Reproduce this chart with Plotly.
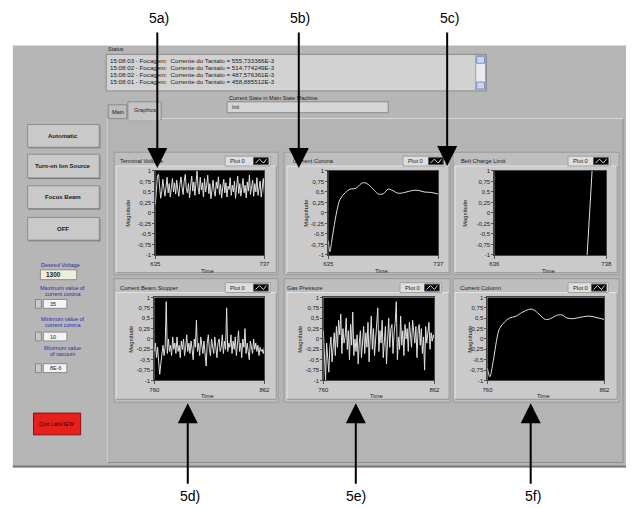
import plotly.graph_objects as go

W, H = 632, 508

# ---------------- data ----------------
tv_start, tv_end = 635, 737
terminal_voltage = [
    0.20, 0.55, 0.88, 0.92, 0.60, 0.35, 0.52, 0.80, 0.58, 0.40,
    0.62, 0.85, 0.48, 0.70, 0.38, 0.66, 0.82, 0.50, 0.72, 0.45,
    0.78, 0.55, 0.40, 0.68, 0.86, 0.62, 0.44, 0.75, 0.92, 0.58,
    0.48, 0.70, 0.36, 0.64, 0.88, 0.52, 0.74, 0.42, 0.80, 1.00,
    0.60, 0.45, 0.85, 0.55, 0.72, 0.38, 0.82, 0.50, 0.66, 0.90,
    0.46, 0.70, 0.34, 0.62, 0.78, 0.52, 0.40, 0.74, 0.58, 0.86,
    0.44, 0.68, 0.36, 0.60, 0.80, 0.48, 0.72, 0.38, 0.64, 0.56,
    0.84, 0.42, 0.66, 0.50, 0.76, 0.35, 0.62, 0.88, 0.46, 0.70,
    0.40, 0.58, 0.82, 0.48, 0.66, 0.36, 0.74, 0.52, 0.90, 0.44,
    0.62, 0.78, 0.40, 0.70, 0.50, 0.84, 0.42, 0.60, 0.76, 0.38,
    0.66, 0.82, 0.45,
]

cc_start, cc_end = 635, 737
corona_time = [635, 636.5, 638, 640, 643, 646, 651, 655.5, 660, 663, 666, 669, 672,
               675, 678, 681.5, 686, 690.5, 695, 700, 706, 712, 718, 724, 730, 737]
corona_value = [-0.66, -0.92, -0.70, -0.38, 0.05, 0.33, 0.49, 0.57, 0.58, 0.64, 0.71,
                0.72, 0.68, 0.61, 0.53, 0.45, 0.46, 0.57, 0.53, 0.47, 0.49, 0.53,
                0.54, 0.50, 0.49, 0.45]

bc_start, bc_end = 636, 738
belt_time = [720.5, 725]
belt_value = [-1.0, 1.0]

bs_start, bs_end = 760, 862
beam_stopper = [
    -0.30, -0.10, -0.45, -0.20, -0.55, -0.85, -0.60, -0.35, -0.15, -0.40,
    -0.20, 0.90, -0.35, 0.00, -0.30, -0.15, -0.40, 0.05, -0.25, -0.10,
    -0.35, 0.05, -0.30, -0.15, -0.45, -0.05, -0.25, 0.00, -0.40, -0.20,
    0.10, -0.30, -0.10, -0.35, -0.05, -0.25, -0.50, 0.00, -0.20, 0.45,
    -0.30, -0.10, -0.40, 0.05, -0.20, -0.35, -0.05, -0.30, -0.65, -0.10,
    0.10, -0.25, -0.40, 0.00, -0.20, -0.35, 0.05, -0.15, -0.45, -0.10,
    0.00, -0.30, -0.20, 0.10, -0.35, -0.05, -0.25, 0.75, -0.30, -0.10,
    -0.20, 0.10, -0.35, -0.05, -0.25, 0.05, -0.40, -0.15, 0.20, -0.30,
    -0.10, -0.45, 0.00, -0.20, 0.25, -0.35, -0.10, -0.30, -0.50, -0.05,
    -0.20, -0.35, 0.00, -0.25, -0.10, -0.30, -0.15, -0.40, -0.20, -0.30,
    -0.25, -0.35, -0.20,
]

gp_start, gp_end = 760, 862
gas_pressure = [
    0.20, -0.30, -1.00, -0.10, -0.45, -0.80, -0.20, 0.05, -0.55, -0.15,
    0.15, -0.40, 0.30, -0.20, 0.45, 0.10, 0.60, -0.35, 0.25, -0.10,
    0.05, 0.50, -0.25, 0.20, -0.50, 0.35, -0.15, 0.65, -0.40, 0.00,
    -0.30, 0.10, -0.60, -0.10, 0.20, -0.45, 0.05, 0.30, -0.35, 0.15,
    -0.20, 0.40, -0.55, 0.10, 0.55, -0.25, 0.25, -0.40, 0.05, 0.35,
    0.75, -0.30, 0.20, -0.10, 0.45, -0.45, 0.00, 0.30, -0.60, 0.10,
    0.50, -0.20, 0.25, 0.35, -0.35, 0.15, 0.40, 0.90, -0.50, 0.05,
    -0.25, 0.55, -0.15, 0.20, -0.40, 0.35, 0.00, 0.25, -0.30, 0.40,
    0.10, -0.20, 0.45, 0.15, -0.10, 0.30, -0.45, 0.20, 0.35, -0.15,
    0.25, -0.35, 0.05, -0.75, 0.30, -0.10, 0.20, 0.40, -0.25, 0.15,
    -0.05, 0.10, 0.00,
]

cl_start, cl_end = 760, 862
column_time = [760, 762, 765, 768, 770.5, 775, 779, 785, 789, 793, 798, 800.5, 805,
               810.5, 815, 820.5, 825, 829, 835, 842, 849.5, 853, 862]
column_value = [-0.70, -0.91, -0.54, -0.03, 0.25, 0.41, 0.50, 0.55, 0.62, 0.68, 0.72,
                0.70, 0.60, 0.47, 0.49, 0.57, 0.58, 0.51, 0.49, 0.53, 0.55, 0.53, 0.47]

mag_ticks = [1, 0.75, 0.5, 0.25, 0, -0.25, -0.5, -0.75, -1]
mag_labels = ["1", "0,75", "0,5", "0,25", "0", "-0,25", "-0,5", "-0,75", "-1"]

graph_titles = ["Terminal Voltage", "Current Corona", "Belt Charge Limit",
                "Current Beam Stopper", "Gas Pressure", "Current Column"]
fig_labels = ["5a)", "5b)", "5c)", "5d)", "5e)", "5f)"]

status_lines = [
    "15:08:03 - Focagem:  Corrente do Tantalo = 555,733366E-3",
    "15:08:02 - Focagem:  Corrente do Tantalo = 514,774249E-3",
    "15:08:02 - Focagem:  Corrente do Tantalo = 487,576361E-3",
    "15:08:01 - Focagem:  Corrente do Tantalo = 458,885512E-3",
]
button_labels = ["Automatic", "Turn-on Ion Source", "Focus Beam", "OFF"]

# ---------------- helpers ----------------
FONT = "Liberation Sans"


def X(px):
    return px / W


def Y(py):
    return 1 - py / H


shapes = []
annots = []


def rect(x0, y0, x1, y1, fill, line=None, lw=1, layer="below"):
    shapes.append(dict(type="rect", xref="paper", yref="paper",
                       x0=X(x0), x1=X(x1), y0=Y(y1), y1=Y(y0),
                       fillcolor=fill, layer=layer,
                       line=dict(color=line if line else fill, width=lw if line else 0)))


def hline(x0, x1, y, color, lw=1, layer="below"):
    shapes.append(dict(type="line", xref="paper", yref="paper", x0=X(x0), x1=X(x1),
                       y0=Y(y), y1=Y(y), line=dict(color=color, width=lw), layer=layer))


def vline(x, y0, y1, color, lw=1, layer="below"):
    shapes.append(dict(type="line", xref="paper", yref="paper", x0=X(x), x1=X(x),
                       y0=Y(y0), y1=Y(y1), line=dict(color=color, width=lw), layer=layer))


def text(x, y, s, size=6, color="#1a1a1a", anchor="left", bold=False, angle=0, family=FONT):
    if bold:
        s = "<b>" + s + "</b>"
    annots.append(dict(x=X(x), y=Y(y), xref="paper", yref="paper", text=s, showarrow=False,
                       xanchor=anchor, yanchor="middle", textangle=angle,
                       font=dict(size=size, color=color, family=family)))


# ---------------- window background ----------------
rect(8, 43, 632, 470, "#b6b6b6")
hline(8, 632, 469, "#7a7a7a", 2)
rect(104, 117, 629, 465, "#b4b4b4", "#8c8c8c", 1)
hline(104, 629, 117, "#e2e2e2", 1)
vline(104, 117, 465, "#e2e2e2", 1)

# status
text(103, 47, "Status", 5.5)
rect(103, 52, 490, 89, "#d2d2d2", "#8a8a8a", 1)
for i, s in enumerate(status_lines):
    text(105, 58 + 7 * i, s, 6.2)
rect(479, 53, 489, 88, "#e8e8ee", "#a0a0a8", 1)
rect(480, 54, 488, 61, "#c8d4f0", "#8090c0", 1)
rect(480, 80, 488, 87, "#c8d4f0", "#8090c0", 1)

# current state
text(226, 96, "Current State in Main State Machine", 5.5)
rect(226, 100, 390, 111, "#d6d6d6", "#8a8a8a", 1)
text(229, 105.5, "Init", 5.5)

# tabs
rect(105, 103, 124, 117, "#bdbdbd", "#8a8a8a", 1)
text(114.5, 110, "Main", 5.5, anchor="center")
rect(125, 100, 159, 118, "#c4c4c4", "#8a8a8a", 1)
hline(126, 158, 117.5, "#c4c4c4", 2)
text(142, 108, "Graphics", 5.5, anchor="center")

# left buttons
btn_y = [(123, 146), (153, 177), (185, 208), (217, 240)]
for lab, (y0, y1) in zip(button_labels, btn_y):
    rect(24, y0 + 1, 97, y1 + 1, "#6a6a6a")
    rect(23, y0, 96, y1, "#c9c9c9", "#8c8c8c", 1)
    text(59.5, (y0 + y1) / 2, lab, 6, anchor="center", bold=True)

blue = "#2a2aa8"
text(56, 265, "Desired Voltage", 5.5, blue, anchor="center")
rect(36, 270, 73, 280, "#eeeedc", "#8a8a8a", 1)
text(40, 275, "1300", 6.5, bold=True)

ctrl = [(("Maximum value of", "current corona"), 288, 300, "35"),
        (("Minimum value of", "current corona"), 320, 333, "10"),
        (("Minimum value", "of vacuum"), 349, 365, "8E-6")]
for (l1, l2), ty, by, val in ctrl:
    text(59, ty, l1, 5.5, blue, anchor="center")
    text(59, ty + 6, l2, 5.5, blue, anchor="center")
    rect(31, by, 37, by + 9, "#c8c8c8", "#8a8a8a", 1)
    rect(39, by, 63, by + 9, "#f4f4f4", "#8a8a8a", 1)
    text(44, by + 4.5, val, 5.5)

rect(29, 415, 77, 437, "#e8201c", "#8a1010", 1)
text(53, 426, "Quit LabVIEW", 5.5, "#3a0000", anchor="center")

# ---------------- graph panels ----------------
cols = [
    dict(ox=(111, 278), ix=(113, 276)),
    dict(ox=(284, 453), ix=(287, 452)),
    dict(ox=(456, 625), ix=(458, 623)),
]
rows = [dict(oy=(151, 275), iy=(165, 273)),
        dict(oy=(279, 404), iy=(293, 401))]
plot_x = [(153, 264), (329, 441), (498, 612), (152, 264), (324, 437), (491, 610)]
mag_x = [125, 306, 468, 128, 300, 473]
title_x = [115, 291, 462, 115, 285, 461]
legend_x = [(224, 270), (405, 448), (573, 616), (224, 270), (402, 444), (573, 614)]

series = [
    (list(range(tv_start, tv_start + len(terminal_voltage))), terminal_voltage, tv_start, tv_end),
    (corona_time, corona_value, cc_start, cc_end),
    (belt_time, belt_value, bc_start, bc_end),
    (list(range(bs_start, bs_start + len(beam_stopper))), beam_stopper, bs_start, bs_end),
    (list(range(gp_start, gp_start + len(gas_pressure))), gas_pressure, gp_start, gp_end),
    (column_time, column_value, cl_start, cl_end),
]

fig = go.Figure()
layout_axes = {}
for k in range(6):
    r, c = divmod(k, 3)
    col, row = cols[c], rows[r]
    rect(col["ox"][0], row["oy"][0], col["ox"][1], row["oy"][1], "#bebebe", "#9a9a9a", 1)
    rect(col["ix"][0], row["iy"][0], col["ix"][1], row["iy"][1], "#cacaca", "#e4e4e4", 1)
    hline(col["ix"][0], col["ix"][1], row["iy"][1], "#8a8a8a", 1)
    vline(col["ix"][1], row["iy"][0], row["iy"][1], "#8a8a8a", 1)

    py0 = 170 if r == 0 else 298
    py1 = 255 if r == 0 else 382
    px0, px1 = plot_x[k]
    rect(px0, py0, px1, py1, "#000000")
    top = row["oy"][0]
    text(title_x[k], top + 9, graph_titles[k], 5.8)
    lx0, lx1 = legend_x[k]
    ly = top + 9
    rect(lx0, ly - 5, lx1, ly + 5, "#dedede", "#a0a0a0", 1, layer="above")
    text(lx0 + 3, ly, "Plot 0", 5.8)
    rect(lx1 - 17, ly - 3.5, lx1 - 2, ly + 3.5, "#000000", "#555555", 1, layer="above")
    ix0 = lx1 - 15
    zz = "M {},{} L {},{} L {},{} L {},{}".format(
        X(ix0), Y(ly + 2), X(ix0 + 4), Y(ly - 2), X(ix0 + 8), Y(ly + 2), X(ix0 + 11), Y(ly - 2))
    shapes.append(dict(type="path", xref="paper", yref="paper", path=zz,
                       line=dict(color="#dddddd", width=1), layer="above"))

    text(mag_x[k], (py0 + py1) / 2, "Magnitude", 5.8, angle=-90, anchor="center")
    text((px0 + px1) / 2 - 2, py1 + 16, "Time", 5.8, anchor="center")

    xs, ys, t0, t1 = series[k]
    sfx = "" if k == 0 else str(k + 1)
    fig.add_trace(go.Scatter(x=xs, y=ys, mode="lines", xaxis="x" + sfx, yaxis="y" + sfx,
                             line=dict(color="#e0e0e0", width=1,
                                       shape="spline" if k in (1, 5) else "linear"),
                             showlegend=False, hoverinfo="skip"))
    layout_axes["xaxis" + sfx] = dict(
        domain=[X(px0), X(px1)], anchor="y" + sfx, range=[t0, t1],
        tickvals=[t0, t1], ticktext=[str(t0), str(t1)], ticks="outside", ticklen=3,
        tickcolor="#555", tickfont=dict(size=6, family=FONT, color="#1a1a1a"),
        showgrid=False, zeroline=False, showline=True, linecolor="#444", mirror=True,
        fixedrange=True)
    layout_axes["yaxis" + sfx] = dict(
        domain=[Y(py1), Y(py0)], anchor="x" + sfx, range=[-1, 1],
        tickvals=mag_ticks, ticktext=mag_labels, ticks="outside", ticklen=2,
        tickcolor="#555", tickfont=dict(size=6, family=FONT, color="#1a1a1a"),
        showgrid=False, zeroline=False, showline=True, linecolor="#444", mirror=True,
        fixedrange=True)

# ---------------- arrows and figure labels ----------------
top_arrows = [(155, 167), (299, 167), (450, 165)]
bot_arrows = [(186, 405), (357, 405), (535, 405)]
for (x, tip) in top_arrows:
    annots.append(dict(x=X(x), y=Y(tip), xref="paper", yref="paper", text="", showarrow=True,
                       ax=0, ay=30 - tip, arrowhead=2, arrowsize=2, arrowwidth=2,
                       arrowcolor="#000000", standoff=0))
for (x, tip) in bot_arrows:
    annots.append(dict(x=X(x), y=Y(tip), xref="paper", yref="paper", text="", showarrow=True,
                       ax=0, ay=487 - tip, arrowhead=2, arrowsize=2, arrowwidth=2,
                       arrowcolor="#000000", standoff=0))
label_pos = [(157, 15), (300, 15), (452, 15), (188, 499), (357, 499), (537, 499)]
for lab, (x, y) in zip(fig_labels, label_pos):
    text(x, y, lab, 14, "#000000", anchor="center")

fig.update_layout(
    width=W, height=H, autosize=False,
    margin=dict(l=0, r=0, t=0, b=0, pad=0),
    paper_bgcolor="#ffffff", plot_bgcolor="#000000",
    shapes=shapes, annotations=annots, showlegend=False,
    font=dict(family=FONT),
    **layout_axes,
)

fig.write_html("out.html", config=dict(displayModeBar=False, staticPlot=True),
               post_script="document.body.style.margin='0';")
